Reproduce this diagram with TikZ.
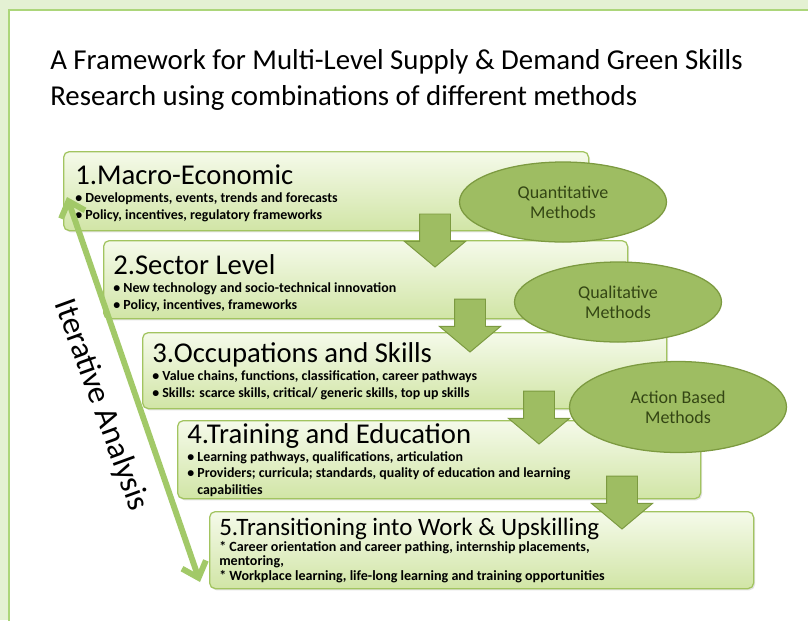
\documentclass[tikz,border=0pt]{standalone}
\usepackage{fontspec}
\setmainfont{Carlito}
\usetikzlibrary{shapes.geometric,shapes.arrows,arrows.meta,shadows}

\definecolor{pagegreen}{RGB}{228,241,211}
\definecolor{panelline}{RGB}{172,214,122}
\definecolor{boxtop}{RGB}{245,250,234}
\definecolor{boxbottom}{RGB}{209,229,166}
\definecolor{boxline}{RGB}{162,196,96}
\definecolor{methodfill}{RGB}{158,189,98}
\definecolor{methodline}{RGB}{124,154,64}
\definecolor{methodtext}{RGB}{52,70,20}
\definecolor{loopgreen}{RGB}{162,201,104}

\begin{document}
\begin{tikzpicture}[x=0.025cm,y=-0.025cm,
    levelbox/.style={draw=boxline,line width=0.9pt,rounded corners=4pt,top color=boxtop,bottom color=boxbottom,
        drop shadow={opacity=0.22,shadow xshift=1pt,shadow yshift=-1.2pt},anchor=north west,inner sep=0pt},
    leveltext/.style={anchor=base west,align=left,inner sep=0pt,font=\bulletfontsize\bfseries},
    methodoval/.style={ellipse,draw=methodline,line width=0.9pt,fill=methodfill,text=methodtext,
        align=center,inner sep=0pt,font=\ovalfontsize},
    downarrow/.style={single arrow,shape border rotate=270,draw=methodline,fill=methodfill,line width=0.7pt,
        inner sep=15*\pu,single arrow head extend=15*\pu,single arrow tip angle=100,minimum height=53*\pu}]
    \providecommand{\pu}{0.025cm}
    \providecommand{\titlefontsize}{\fontsize{20.5}{25.5}\selectfont}
    \providecommand{\levelfontsize}{\fontsize{20.4}{24}\selectfont\mdseries}
    \providecommand{\bulletfontsize}{\fontsize{9.9}{11.7}\selectfont}
    \providecommand{\ovalfontsize}{\fontsize{12.8}{14.2}\selectfont}
    \providecommand{\loopfontsize}{\fontsize{23}{26}\selectfont}
    \useasboundingbox (0,0) rectangle (808,620);
    \fill[pagegreen] (0,0) rectangle (808,620);
    \draw[panelline,line width=1.4pt,fill=white] (9,10) rectangle (830,640);
    % base anchor sits on the last line
    \node[anchor=base west,align=left,inner sep=0pt,font=\titlefontsize] (heading) at (50,105)
        {A Framework for Multi-Level Supply \& Demand Green Skills\\Research using combinations of different methods};
    % the five levels
    \node[levelbox,minimum width=525*\pu,minimum height=79*\pu] (macro) at (63,151) {};
    \node[leveltext] (macrotext) at (75,219)
        {{\levelfontsize 1.Macro-Economic}\\[1pt]
        \textbullet\ Developments, events, trends and forecasts\\
        \textbullet\ Policy, incentives, regulatory frameworks};
    \node[levelbox,minimum width=524*\pu,minimum height=78*\pu] (sector) at (103,240) {};
    \node[leveltext] (sectortext) at (113,309)
        {{\levelfontsize 2.Sector Level}\\[1pt]
        \textbullet\ New technology and socio-technical innovation\\
        \textbullet\ Policy, incentives, frameworks};
    \node[levelbox,minimum width=524*\pu,minimum height=76*\pu] (occupation) at (142,332) {};
    \node[leveltext] (occupationtext) at (152,397)
        {{\levelfontsize 3.Occupations and Skills}\\[1pt]
        \textbullet\ Value chains, functions, classification, career pathways\\
        \textbullet\ Skills: scarce skills, critical/ generic skills, top up skills};
    \node[levelbox,minimum width=523*\pu,minimum height=78*\pu] (training) at (177,420) {};
    \node[leveltext] (trainingtext) at (187,494)
        {{\levelfontsize 4.Training and Education}\\[1pt]
        \textbullet\ Learning pathways, qualifications, articulation\\
        \textbullet\ Providers; curricula; standards, quality of education and learning\\
        \hphantom{\textbullet\ }capabilities};
    \node[levelbox,minimum width=544*\pu,minimum height=77*\pu] (transition) at (209,511) {};
    \node[leveltext,font=\fontsize{10}{10.3}\selectfont\bfseries] (transitiontext) at (219,580)
        {{\fontsize{17.8}{20}\selectfont\mdseries 5.Transitioning into Work \& Upskilling}\\[1pt]
        * Career orientation and career pathing, internship placements,\\
        mentoring,\\
        * Workplace learning, life-long learning and training opportunities};
    % step arrows
    \node[downarrow] (step1) at (435,234) {};
    \node[downarrow] (step2) at (470,319) {};
    \node[downarrow] (step3) at (539,411) {};
    \node[downarrow] (step4) at (622,496) {};
    % methods
    \node[methodoval,minimum width=207*\pu,minimum height=80*\pu] (quant) at (563,202) {Quantitative\\Methods};
    \node[methodoval,minimum width=207*\pu,minimum height=80*\pu] (qual) at (618,302) {Qualitative\\Methods};
    \node[methodoval,minimum width=217*\pu,minimum height=91*\pu] (action) at (678,407) {Action Based\\Methods};
    % iterative analysis
    \coordinate (looptop) at (67,197);
    \coordinate (loopbottom) at (200,582);
    \draw[loopgreen,line width=4.2pt,{Straight Barb[length=10pt,width=18pt]}-{Straight Barb[length=10pt,width=18pt]}]
        (looptop) -- (loopbottom);
    \node[rotate=-70,font=\loopfontsize,inner sep=0pt] (looplabel) at (101,405) {Iterative Analysis};
\end{tikzpicture}
\end{document}
